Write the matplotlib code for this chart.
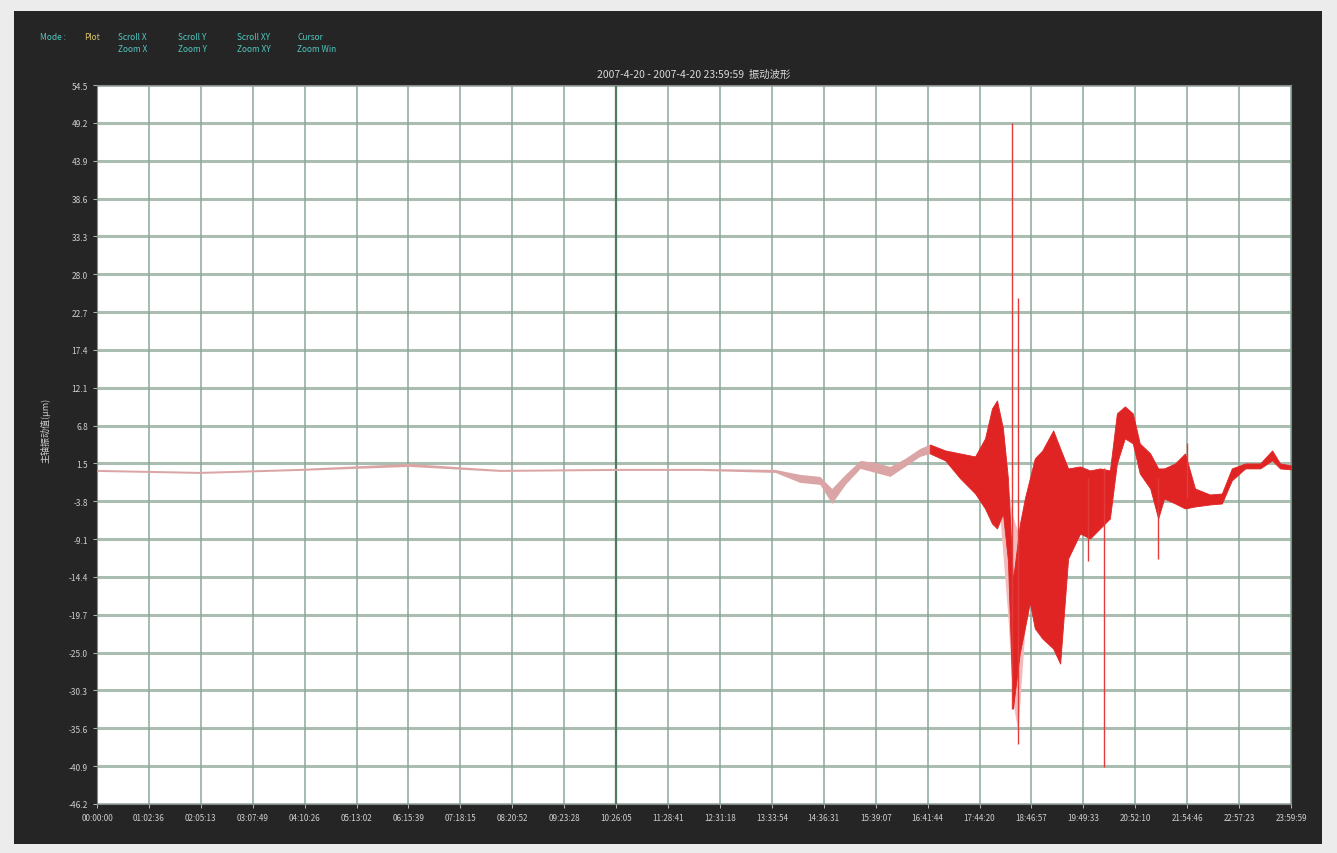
import numpy as np
import matplotlib.pyplot as plt
from matplotlib.patches import Rectangle

plt.rcParams['font.family'] = ['Noto Sans CJK SC', 'DejaVu Sans']

# time axis in hours, envelope of the red trace (upper / lower)
t_h = [0.00, 2.07, 4.08, 6.27, 8.10, 10.43, 12.12, 13.63, 14.13, 14.53, 14.77, 15.04,
       15.34, 15.64, 15.94, 16.24, 16.54, 16.74, 17.05, 17.35, 17.65, 17.85, 17.99, 18.09,
       18.21, 18.31, 18.41, 18.55, 18.65, 18.75, 18.85, 19.00, 19.22, 19.36, 19.52, 19.76, 19.96,
       20.16, 20.36, 20.50, 20.66, 20.82, 20.96, 21.17, 21.33, 21.45, 21.67, 21.87, 22.07,
       22.37, 22.61, 22.81, 23.08, 23.38, 23.62, 23.78, 24.00]
upper = [0.66, 0.38, 0.80, 1.50, 0.66, 0.80, 0.80, 0.66, -0.04, -0.32, -2.01, -0.04,
         1.92, 1.64, 1.08, 2.20, 3.60, 4.16, 3.32, 2.90, 2.48, 5.01, 9.21, 10.33,
         6.41, -0.60, -14.90, -7.00, -3.40, -0.60, 2.20, 3.30, 6.13, 3.60, 0.80, 1.08, 0.52,
         0.80, 0.52, 8.51, 9.49, 8.51, 4.30, 2.90, 0.80, 0.80, 1.50, 2.90, -2.01,
         -2.85, -2.71, 0.80, 1.50, 1.50, 3.32, 1.50, 1.22]
lower = [0.38, 0.10, 0.52, 1.08, 0.38, 0.52, 0.52, 0.24, -1.16, -1.44, -4.11, -1.44,
         0.80, 0.24, -0.32, 1.08, 2.48, 2.90, 1.92, -0.60, -2.71, -4.81, -6.91, -7.61,
         -5.51, -12.10, -32.85, -25.00, -21.60, -18.00, -21.60, -23.00, -24.44, -26.54, -11.82, -8.31, -9.02,
         -7.61, -6.21, 1.50, 5.01, 4.30, 0.10, -2.01, -6.21, -3.41, -4.11, -4.81, -4.53,
         -4.25, -4.11, -0.88, 0.80, 0.80, 1.92, 0.80, 0.66]

# faint haze behind the big swing
haze_t = [18.15, 18.31, 18.41, 18.51, 18.65]
haze_top = [-0.60, -2.00, -6.00, -8.00, -4.00]
haze_bot = [-6.00, -20.00, -32.00, -36.00, -22.00]

# thin spikes: time, top, bottom
spike_t = [18.39, 18.51, 19.92, 20.24, 21.33, 21.91]
spike_top = [49.17, 24.63, -0.60, 0.80, -0.60, 4.30]
spike_bot = [-32.85, -37.76, -12.10, -40.98, -11.82, -3.41]

y_ticks = [54.5, 49.2, 43.9, 38.6, 33.3, 28.0, 22.7, 17.4, 12.1, 6.8, 1.5, -3.8,
           -9.1, -14.4, -19.7, -25.0, -30.3, -35.6, -40.9, -46.2]
x_labels = ['00:00:00', '01:02:36', '02:05:13', '03:07:49', '04:10:26', '05:13:02',
            '06:15:39', '07:18:15', '08:20:52', '09:23:28', '10:26:05', '11:28:41',
            '12:31:18', '13:33:54', '14:36:31', '15:39:07', '16:41:44', '17:44:20',
            '18:46:57', '19:49:33', '20:52:10', '21:54:46', '22:57:23', '23:59:59']

fig = plt.figure(figsize=(13.37, 8.54), dpi=100)
fig.patch.set_facecolor('#ececec')
bg = Rectangle((14/1337, 9/854), 1308/1337, 833/854, transform=fig.transFigure,
               facecolor='#252525', edgecolor='none', zorder=-10)
fig.patches.append(bg)

ax = fig.add_axes([97/1337, 49/854, 1194/1337, 719/854])
ax.set_facecolor('white')

xt = np.linspace(0, 24, len(x_labels))
for v in y_ticks:
    ax.axhline(v, color='#a9bdb0', lw=2.2, zorder=1)
for i, v in enumerate(xt):
    ax.axvline(v, color='#4f7a62' if i == 10 else '#8aa898', lw=1.6 if i == 10 else 1.1, zorder=1)

t = np.array(t_h)
up = np.array(upper)
lo = np.array(lower)
quiet = t <= 16.74
busy = t >= 16.74
# quiet part: thin pale trace
ax.fill_between(t, lo, up, where=quiet, color='#dba5a5', lw=0, zorder=3)
ax.fill_between(haze_t, haze_bot, haze_top, color='#f3bcbc', lw=0, zorder=2)
ax.fill_between(t, lo, up, where=busy, color='#e02424', lw=0.6, edgecolor='#e02424', zorder=3)
ax.vlines(spike_t, spike_bot, spike_top, color='#e33a3a', lw=1.0, zorder=3)

ax.set_xlim(0, 24)
ax.set_ylim(-46.2, 54.5)
ax.set_yticks(y_ticks)
ax.set_yticklabels(['%.1f' % v for v in y_ticks], fontsize=6, color='#cfcfcf')
ax.set_xticks(xt)
ax.set_xticklabels(x_labels, fontsize=5.8, color='#cfcfcf')
ax.tick_params(colors='#cfcfcf', length=3, width=0.6)
for s in ax.spines.values():
    s.set_color('#888888')
    s.set_linewidth(0.8)

ax.set_title('2007-4-20 - 2007-4-20 23:59:59  振动波形', fontsize=7.5, color='#d8d8d8', pad=6)
fig.text(45/1337, 1 - 430/854, '主轴振动值(μm)', rotation=90, fontsize=6.5,
         color='#d0d0d0', ha='center', va='center')

# toolbar legend
fig.text(40/1337, 1 - 37/854, 'Mode :', fontsize=6, color='#52c8c0', va='center')
fig.text(84/1337, 1 - 37/854, 'Plot', fontsize=6, color='#d9c46a', va='center')
tools = [('Scroll X', 'Zoom X', 118), ('Scroll Y', 'Zoom Y', 178),
         ('Scroll XY', 'Zoom XY', 237), ('Cursor', 'Zoom Win', 297)]
for a, b, xp in tools:
    fig.text(xp/1337, 1 - 37/854, a, fontsize=6, color='#52c8c0', va='center')
    fig.text(xp/1337, 1 - 50/854, b, fontsize=6, color='#52c8c0', va='center')

fig.savefig('out.png', dpi=100, facecolor=fig.get_facecolor())
